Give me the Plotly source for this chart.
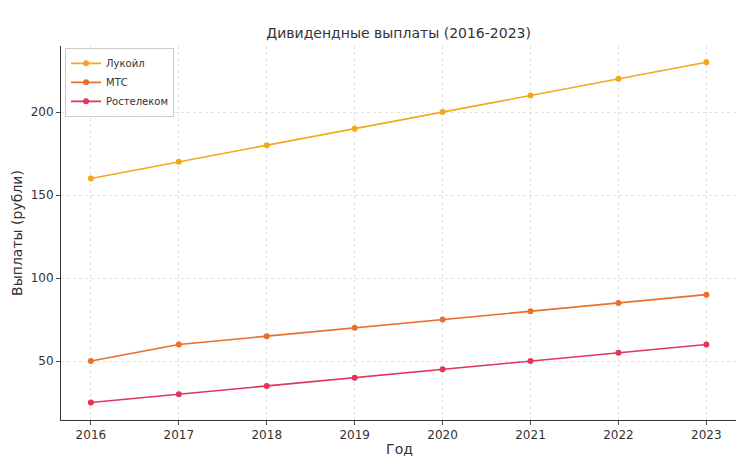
import plotly.graph_objects as go

years = [2016, 2017, 2018, 2019, 2020, 2021, 2022, 2023]
lukoil = [160, 170, 180, 190, 200, 210, 220, 230]
mts = [50, 60, 65, 70, 75, 80, 85, 90]
rostelecom = [25, 30, 35, 40, 45, 50, 55, 60]

series = [("Лукойл", lukoil, "#f2a81b"), ("МТС", mts, "#e8702a"), ("Ростелеком", rostelecom, "#e0365a")]

fig = go.Figure()
for name, vals, col in series:
    fig.add_trace(go.Scatter(x=years, y=vals, name=name, mode="lines+markers",
                             line=dict(color=col, width=1.6), marker=dict(size=6, color=col)))

fig.update_layout(
    width=744, height=459, plot_bgcolor="white", paper_bgcolor="white",
    font=dict(family="DejaVu Sans", size=12, color="#333"),
    title=dict(text="Дивидендные выплаты (2016-2023)", x=0.525, y=0.955, xanchor="center", font=dict(size=14)),
    margin=dict(l=53, r=14, t=38, b=47),
    legend=dict(x=0.006, y=0.995, xanchor="left", yanchor="top", bgcolor="rgba(255,255,255,0.9)",
                bordercolor="#ccc", borderwidth=1, font=dict(size=10), itemwidth=30, tracegroupgap=0),
    xaxis=dict(title=dict(text="Год", standoff=2), range=[2015.66, 2023.36], tickvals=years, automargin=False,
               showgrid=True, gridcolor="#e2e2e2", griddash="dot", showline=True, linecolor="#333",
               ticks="outside", ticklen=4, zeroline=False),
    yaxis=dict(title=dict(text="Выплаты (рубли)", standoff=4), range=[14.5, 239.8], tickvals=[50, 100, 150, 200],
               automargin=False,
               showgrid=True, gridcolor="#e2e2e2", griddash="dot", showline=True, linecolor="#333",
               ticks="outside", ticklen=4, zeroline=False),
)
fig.write_html("out.html")
